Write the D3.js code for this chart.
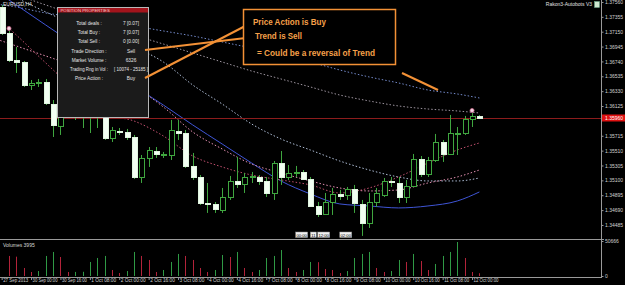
<!DOCTYPE html>
<html lang="en">
<head>
<meta charset="UTF-8">
<title>EURUSD,H4</title>
<script src="https://d3js.org/d3.v7.min.js"></script>
<style>
  body { margin: 0; background: #000; }
  svg { display: block; }
  text { font-family: "Liberation Sans", Arial, sans-serif; }
</style>
</head>
<body>
<svg id="chart" width="625" height="285"></svg>
<script>
// candles, first one is index -1 (partly off the left edge)
const firstIdx = -1;
const opens = [1.37490,1.37132,1.36760,1.36732,1.36415,1.36443,1.36457,1.36153,1.35850,1.36043,1.36002,1.36071,1.35988,1.36043,1.36002,1.35685,1.35781,1.35767,1.35698,1.35147,1.35409,1.35505,1.35450,1.35450,1.35781,1.35753,1.35299,1.35147,1.34788,1.34775,1.34692,1.34871,1.35092,1.35050,1.35147,1.35147,1.35092,1.34926,1.35340,1.35147,1.35202,1.35216,1.35119,1.34747,1.34637,1.34802,1.34913,1.34899,1.34981,1.34775,1.34513,1.34802,1.34899,1.35092,1.35064,1.34871,1.35023,1.35395,1.35188,1.35381,1.35629,1.35464,1.35740,1.35753,1.35946,1.35988];
const highs = [1.37518,1.37160,1.36939,1.36746,1.36484,1.36498,1.36498,1.36208,1.36139,1.36126,1.36098,1.36139,1.36098,1.36126,1.36071,1.35836,1.35822,1.35809,1.35726,1.35450,1.35560,1.35560,1.35492,1.35933,1.35933,1.35795,1.35478,1.35174,1.35064,1.34802,1.34995,1.35161,1.35423,1.35202,1.35216,1.35174,1.35147,1.35367,1.35505,1.35312,1.35299,1.35243,1.35147,1.34802,1.34926,1.34995,1.34968,1.35009,1.35037,1.34830,1.34926,1.34995,1.35133,1.35147,1.35147,1.35106,1.35464,1.35436,1.35423,1.35740,1.35657,1.36002,1.35836,1.35988,1.36029,1.36002];
const lows = [1.37104,1.36732,1.36581,1.36388,1.36346,1.36388,1.36139,1.35698,1.35726,1.35960,1.35933,1.35822,1.35753,1.35822,1.35657,1.35629,1.35726,1.35657,1.35119,1.35064,1.35285,1.35409,1.35409,1.35381,1.35657,1.35271,1.35106,1.34761,1.34651,1.34651,1.34651,1.34830,1.34995,1.34926,1.35064,1.35037,1.34871,1.34830,1.35037,1.35106,1.35147,1.35106,1.34733,1.34595,1.34623,1.34623,1.34830,1.34830,1.34651,1.34334,1.34444,1.34733,1.34871,1.35009,1.34788,1.34788,1.35009,1.35147,1.35147,1.35354,1.35354,1.35450,1.35450,1.35726,1.35836,1.35960];
const closes = [1.37132,1.36760,1.36732,1.36415,1.36443,1.36457,1.36167,1.35864,1.36043,1.36002,1.36071,1.35988,1.36043,1.36002,1.35685,1.35795,1.35767,1.35698,1.35147,1.35409,1.35519,1.35464,1.35464,1.35795,1.35753,1.35299,1.35147,1.34788,1.34775,1.34706,1.34871,1.35092,1.35050,1.35147,1.35161,1.35092,1.34926,1.35340,1.35147,1.35202,1.35216,1.35119,1.34747,1.34637,1.34802,1.34913,1.34885,1.34981,1.34788,1.34513,1.34802,1.34926,1.35092,1.35078,1.34871,1.35023,1.35395,1.35188,1.35381,1.35629,1.35464,1.35753,1.35753,1.35946,1.35988,1.35960];

// volumes from index 0
const volumes = [29000,28000,11600,5800,7200,29000,34800,27500,5800,5900,6100,20300,26100,29000,8700,4300,7200,34800,29000,23200,5800,8700,20300,31900,29000,23200,11600,5800,8700,30400,27500,34800,11600,5800,8700,26100,29000,37600,11600,5800,8700,20300,20000,10100,8700,4300,7200,26100,31900,34800,11600,5800,7200,23200,20300,31900,21700,8700,17400,29000,34800,49200,26100,5800,3995];
const volumeMax = 50666;

// moving averages read at these candle indices
const maIdx = [-3,1,5,9,13,17,21,25,29,33,37,41,45,49,53,57,61,64];
const ma1 = [1.37546,1.37490,1.37408,1.37353,1.37297,1.37229,1.37160,1.37091,1.37008,1.36925,1.36829,1.36732,1.36622,1.36526,1.36443,1.36346,1.36291,1.36236];
const ma2 = [1.37780,1.37656,1.37518,1.37380,1.37242,1.37104,1.36980,1.36856,1.36732,1.36608,1.36498,1.36388,1.36277,1.36195,1.36126,1.36084,1.36057,1.36029];
const ma3 = [1.37794,1.37615,1.37422,1.37242,1.37091,1.36939,1.36732,1.36415,1.36153,1.35878,1.35671,1.35519,1.35367,1.35243,1.35147,1.35092,1.35092,1.35133];
const ma4 = [1.37794,1.37518,1.37242,1.36967,1.36677,1.36401,1.36139,1.35864,1.35602,1.35340,1.35092,1.34913,1.34775,1.34747,1.34720,1.34747,1.34816,1.34940];
const ma5 = [1.37091,1.36953,1.36815,1.36677,1.36526,1.36388,1.36112,1.35767,1.35533,1.35326,1.35202,1.35092,1.34995,1.34954,1.34968,1.35064,1.35147,1.35243];
const ma6 = [1.37477,1.37104,1.36719,1.36346,1.36015,1.35919,1.35712,1.35436,1.35285,1.35174,1.35106,1.35037,1.34926,1.34995,1.35147,1.35340,1.35519,1.35616];

const priceTicks = [1.37560,1.37355,1.37150,1.36945,1.36740,1.36535,1.36330,1.36125,1.35715,1.35510,1.35305,1.35100,1.34895,1.34690,1.34485];
const bidPrice = 1.35960;

const timeIdx = [-1,3,7,11,15,19,23,27,31,35,39,43,47,51,55,59,63];
const timeLabels = ["27 Sep 2013","30 Sep 00:00","30 Sep 16:00","1 Oct 08:00","2 Oct 00:00","2 Oct 16:00","3 Oct 08:00","4 Oct 00:00","4 Oct 16:00","7 Oct 08:00","8 Oct 00:00","8 Oct 16:00","9 Oct 08:00","10 Oct 00:00","10 Oct 16:00","11 Oct 08:00","12 Oct 00:00"];

const fractalIdx = [0, 63];
const sessionIdx = [39, 41, 42, 45];
const sessionText = ["00:00", "11", "12:00", "02:00"];

const panelLabels = ["Total deals :","Total Buy :","Total Sell :","Trade Direction :","Market Volume :","Trading Rng in Vol :","Price Action :"];
const panelValues = ["7 [0.07]","7 [0.07]","0 [0.00]","Sell","6326","[ 10074 - 25185 ]","Buy"];
const noteLines = ["Price Action is Buy", "Trend is Sell", "= Could be a reversal of Trend"];

const svg = d3.select("#chart");
const W = 625, axisX = 601;

const x = d3.scaleLinear().domain([-1, 64]).range([1.65, 9 + 64 * 7.35]);
const y = d3.scaleLinear().domain([1.34388, 1.37587]).range([232, 0]);
const yv = d3.scaleLinear().domain([0, volumeMax]).range([276, 241]);

// squeeze text that runs wider than max
function fit(sel, max) {
  sel.each(function() {
    if (this.getComputedTextLength() > max) {
      d3.select(this).attr("textLength", max).attr("lengthAdjust", "spacingAndGlyphs");
    }
  });
}

svg.append("rect").attr("width", W).attr("height", 285).attr("fill", "#000");

svg.append("defs").append("clipPath").attr("id", "main")
  .append("rect").attr("x", 0).attr("y", 0).attr("width", axisX).attr("height", 238);

const main = svg.append("g").attr("clip-path", "url(#main)");

// moving averages
const maSets = [
  {v: ma1, color: "#7389c9", dash: "1.5,2"},
  {v: ma2, color: "#9d949f", dash: "1.5,2"},
  {v: ma3, color: "#aebdd6", dash: "1.5,2"},
  {v: ma4, color: "#3f55d6", dash: null},
  {v: ma5, color: "#e38fb1", dash: "1.5,2"},
  {v: ma6, color: "#c2506f", dash: "1.5,2"}
];
const line = d3.line().x(d => x(d[0])).y(d => y(d[1])).curve(d3.curveMonotoneX);
maSets.forEach(m => {
  main.append("path")
    .datum(maIdx.map((i, k) => [i, m.v[k]]))
    .attr("d", line)
    .attr("fill", "none")
    .attr("stroke", m.color)
    .attr("stroke-width", 1)
    .attr("stroke-dasharray", m.dash);
});

// bid line
main.append("line")
  .attr("x1", 0).attr("x2", axisX)
  .attr("y1", Math.round(y(bidPrice)) + 0.5).attr("y2", Math.round(y(bidPrice)) + 0.5)
  .attr("stroke", "#8c1c1c");

// candles
const candles = opens.map((o, k) => ({i: firstIdx + k, o: o, h: highs[k], l: lows[k], c: closes[k]}));
const cg = main.selectAll("g.candle").data(candles).join("g").attr("class", "candle");
cg.append("line")
  .attr("x1", d => Math.round(x(d.i)) + 0.5).attr("x2", d => Math.round(x(d.i)) + 0.5)
  .attr("y1", d => y(d.h)).attr("y2", d => y(d.l))
  .attr("stroke", "#3fa63f");
cg.append("rect")
  .attr("x", d => Math.round(x(d.i)) - 2 + 0.5)
  .attr("y", d => Math.round(y(Math.max(d.o, d.c))) + 0.5)
  .attr("width", 5)
  .attr("height", d => Math.max(1, Math.round(Math.abs(y(d.o) - y(d.c)))))
  .attr("fill", d => d.c >= d.o ? "#000" : "#f2fff2")
  .attr("stroke", d => d.c >= d.o ? "#3fa63f" : "#dff5df")
  .attr("stroke-width", 1);

// fractal marks
main.selectAll("circle.fr").data(fractalIdx).join("circle")
  .attr("class", "fr")
  .attr("cx", i => x(i))
  .attr("cy", i => y(highs[i - firstIdx]) - 2.5)
  .attr("r", 2)
  .attr("fill", "#f4d8e4")
  .attr("stroke", "#d07090")
  .attr("stroke-width", 0.8);

// session boxes at bottom of price window
const sb = svg.selectAll("g.sess").data(sessionIdx).join("g").attr("class", "sess")
  .attr("transform", i => `translate(${x(i)},232)`);
sb.append("rect")
  .attr("x", 0).attr("y", 0)
  .attr("width", (d, k) => sessionText[k].length > 2 ? 12 : 6)
  .attr("height", 5.5)
  .attr("fill", "#f0f0f0")
  .attr("stroke", "#888").attr("stroke-width", 0.5);
sb.append("text")
  .attr("x", (d, k) => sessionText[k].length > 2 ? 6 : 3).attr("y", 4.6)
  .attr("text-anchor", "middle")
  .attr("font-size", 4.2).attr("fill", "#000")
  .text((d, k) => sessionText[k]);

// info panel
const panel = svg.append("g").attr("transform", "translate(57.5,7.5)");
panel.append("rect").attr("width", 91).attr("height", 110)
  .attr("fill", "#1b1b1b").attr("stroke", "#b8b8b8").attr("stroke-width", 1);
panel.append("rect").attr("x", 0.5).attr("y", 0.5).attr("width", 90).attr("height", 4.5).attr("fill", "#a3141c");
panel.append("text").attr("x", 3).attr("y", 4.3).attr("font-size", 4.3)
  .attr("fill", "#f3c9c9").text("POSITION PROPERTIES");
panel.selectAll("text.lab").data(panelLabels).join("text")
  .attr("class", "lab")
  .attr("x", 31.5).attr("y", (d, k) => 17.5 + k * 9.2)
  .attr("text-anchor", "middle").attr("font-size", 4.8)
  .attr("fill", "#e6e6e6").text(d => d)
  .call(fit, 38);
panel.selectAll("text.val").data(panelValues).join("text")
  .attr("class", "val")
  .attr("x", 73.5).attr("y", (d, k) => 17.5 + k * 9.2)
  .attr("text-anchor", "middle").attr("font-size", 4.8)
  .attr("fill", "#e6e6e6").text(d => d)
  .call(fit, 34);

// callout
const orange = "#f39136";
[[145, 78, 251, 23], [145, 50, 254, 37], [402, 73, 438, 90]].forEach(p => {
  svg.append("line").attr("x1", p[0]).attr("y1", p[1]).attr("x2", p[2]).attr("y2", p[3])
    .attr("stroke", orange).attr("stroke-width", 2);
});
svg.append("rect").attr("x", 243.5).attr("y", 9.5).attr("width", 152).attr("height", 55)
  .attr("fill", "#000").attr("stroke", orange).attr("stroke-width", 1.5);
const notePos = [[253, 24.5, 73], [255, 38.5, 47], [257, 56, 118]];
svg.selectAll("text.note").data(noteLines).join("text")
  .attr("class", "note")
  .attr("x", (d, k) => notePos[k][0]).attr("y", (d, k) => notePos[k][1])
  .attr("textLength", (d, k) => notePos[k][2]).attr("lengthAdjust", "spacingAndGlyphs")
  .attr("font-size", 9).attr("font-weight", "bold")
  .attr("fill", "#f6a04a").text(d => d);

// titles
svg.append("text").attr("x", 3).attr("y", 6).attr("font-size", 5).attr("fill", "#e0e0e0").text("EURUSD,H4");
svg.append("text").attr("x", 592).attr("y", 6).attr("text-anchor", "end").attr("font-size", 5).attr("fill", "#e0e0e0").text("Rakon3-Autobots V3");
svg.append("rect").attr("x", 594.5).attr("y", 1.5).attr("width", 5).attr("height", 6).attr("fill", "#cfe7cf").attr("stroke", "#6a8").attr("stroke-width", 0.5);

// volume window
const vg = svg.append("g");
vg.selectAll("line.vol").data(volumes).join("line")
  .attr("class", "vol")
  .attr("x1", (d, k) => Math.round(x(k)) + 0.5).attr("x2", (d, k) => Math.round(x(k)) + 0.5)
  .attr("y1", yv(0)).attr("y2", d => yv(d))
  .attr("stroke", (d, k) => k > 0 && d > volumes[k - 1] ? "#2f9a45" : "#b3233a");
svg.append("text").attr("x", 3).attr("y", 246.5).attr("font-size", 5).attr("fill", "#d8d8d8")
  .text("Volumes " + volumes[volumes.length - 1]);

// frame lines
svg.append("line").attr("x1", 0).attr("x2", axisX + 3).attr("y1", 239.5).attr("y2", 239.5).attr("stroke", "#9a9a9a");
svg.append("line").attr("x1", 0).attr("x2", axisX).attr("y1", 277.5).attr("y2", 277.5).attr("stroke", "#9a9a9a");
svg.append("line").attr("x1", axisX + 0.5).attr("x2", axisX + 0.5).attr("y1", 0).attr("y2", 278).attr("stroke", "#9a9a9a");

function styleAxis(g) {
  g.select(".domain").remove();
  g.selectAll(".tick line").attr("stroke", "#9a9a9a");
  g.selectAll(".tick text").attr("fill", "#d0d0d0").attr("font-size", 5)
    .attr("font-family", "Liberation Sans, Arial, sans-serif");
}

svg.append("g").attr("transform", `translate(${axisX + 0.5},0)`)
  .call(d3.axisRight(y).tickValues(priceTicks).tickFormat(d3.format(".5f")).tickSize(2).tickPadding(1.5))
  .call(styleAxis);

svg.append("g").attr("transform", `translate(${axisX + 0.5},0)`)
  .call(d3.axisRight(yv).tickValues([0, volumeMax]).tickFormat(d3.format("d")).tickSize(2).tickPadding(1.5))
  .call(styleAxis);

// bid label
svg.append("rect").attr("x", axisX + 1).attr("y", y(bidPrice) - 3.5).attr("width", 23).attr("height", 7).attr("fill", "#e01212");
svg.append("text").attr("x", axisX + 4).attr("y", y(bidPrice) + 1.8).attr("font-size", 5).attr("fill", "#fff").text(d3.format(".5f")(bidPrice));

const tAxis = svg.append("g").attr("transform", "translate(0,277.5)")
  .call(d3.axisBottom(x).tickValues(timeIdx).tickFormat((d, k) => timeLabels[k]).tickSize(2.5))
  .call(styleAxis);
tAxis.selectAll(".tick text")
  .attr("text-anchor", "start").attr("x", 1).attr("y", 1.5)
  .attr("font-size", 4.8)
  .call(fit, 25);
</script>
</body>
</html>
